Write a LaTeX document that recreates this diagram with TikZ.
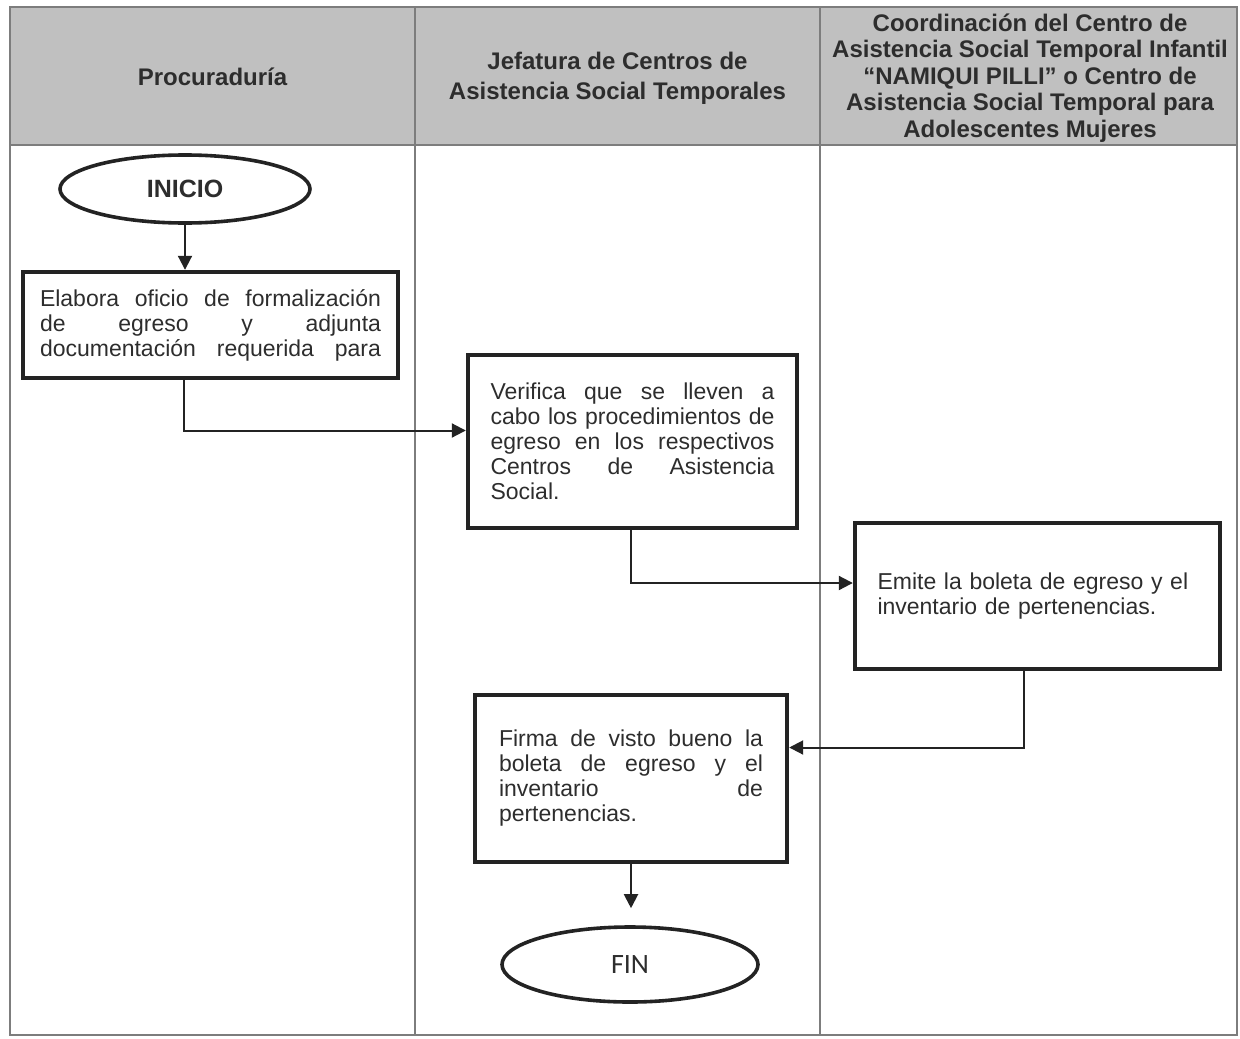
\documentclass[tikz,border=0pt]{standalone}
\usepackage{fontspec}
\setmainfont{Liberation Sans}
\newfontfamily\carlitofont{Carlito}
\usetikzlibrary{arrows.meta,shapes.geometric,calc}
\definecolor{headgray}{RGB}{192,192,192}
\definecolor{gridgray}{RGB}{125,125,125}
\definecolor{inkc}{RGB}{35,35,35}
\definecolor{textc}{RGB}{45,45,45}
\begin{document}
\begin{tikzpicture}[x=0.5pt,y=-0.5pt,
  grid/.style={draw=gridgray,line width=0.6pt},
  head/.style={font=\bfseries\fontsize{12}{13.25}\selectfont,align=center,text=textc,inner sep=0pt},
  box/.style={draw=inkc,line width=2.2pt,rectangle,inner sep=0pt,text=textc,
    font=\fontsize{11.5}{12.5}\selectfont,align=justify},
  term/.style={draw=inkc,line width=1.8pt,ellipse,inner sep=0pt,text=textc},
  conn/.style={draw=inkc,line width=1pt,-{Triangle[length=7pt,width=7pt]}}]
\useasboundingbox (0,0) rectangle (1240,1038);
% table
\fill[headgray] (10,7) rectangle (1237,145);
\draw[grid] (10,7) rectangle (1237,1035);
\draw[grid] (10,145) -- (1237,145);
\draw[grid] (415,7) -- (415,1035);
\draw[grid] (820,7) -- (820,1035);
% headers
\node[head] (h1) at (212.5,77) {Procuradur\'ia};
\node[head,font=\bfseries\fontsize{12}{15}\selectfont] (h2) at (617.5,78) {Jefatura de Centros de\\Asistencia Social Temporales};
\node[head] (h3) at (1030,78) {Coordinaci\'on del Centro de\\Asistencia Social Temporal Infantil\\“NAMIQUI PILLI” o Centro de\\Asistencia Social Temporal para\\Adolescentes Mujeres};
% nodes
\node[term,minimum width=125pt,minimum height=34pt,font=\bfseries\fontsize{12.5}{14}\selectfont] (inicio) at (185,189) {INICIO};
\node[box,minimum width=187.5pt,minimum height=53pt,text width=170.5pt] (b1) at (210.5,325)
  {Elabora oficio de formalizaci\'on\linebreak de egreso y adjunta\linebreak \makebox[\hsize][s]{documentaci\'on requerida para}};
\node[box,minimum width=164.5pt,minimum height=86.5pt,text width=142pt] (b2) at (632.5,441.5)
  {Verifica que se lleven a\linebreak cabo los procedimientos de\linebreak egreso en los respectivos\linebreak Centros de Asistencia\linebreak Social.};
\node[box,minimum width=182.5pt,minimum height=73pt,text width=160pt,align=left] (b3) at (1037.5,596)
  {Emite la boleta de egreso y el\\inventario de pertenencias.};
\node[box,minimum width=156pt,minimum height=83.5pt,text width=132pt] (fir) at (631,778.5)
  {Firma de visto bueno la\linebreak boleta de egreso y el\linebreak inventario de\linebreak pertenencias.};
\node[term,minimum width=128pt,minimum height=37.5pt,font=\carlitofont\fontsize{14}{16}\selectfont] (fin) at (630,964.5) {FIN};
% connectors
\draw[conn] (inicio.south) -- (inicio.south |- b1.north);
\draw[conn] ($(b1.south)+(-27,0)$) |- ($(b2.west)+(0,-11)$);
\draw[conn] ($(b2.south)+(-2,0)$) |- ($(b3.west)+(0,-13)$);
\draw[conn] ($(b3.south)+(-14,0)$) |- ($(fir.east)+(0,-31)$);
\draw[conn,shorten >=8.5pt] (fir.south) -- (fir.south |- fin.north);
\end{tikzpicture}
\end{document}
